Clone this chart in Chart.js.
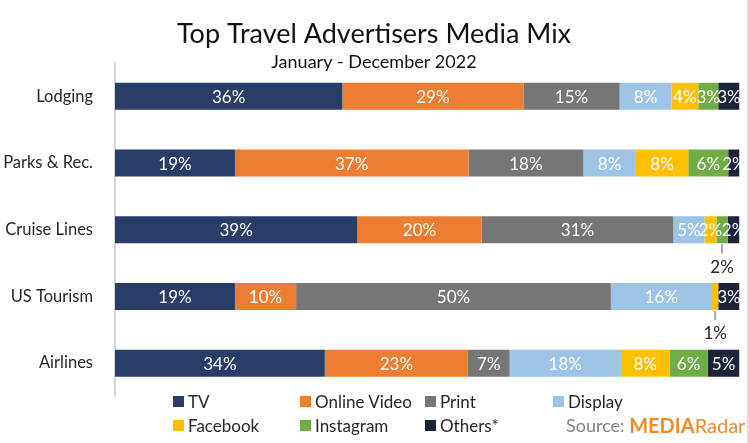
<!DOCTYPE html>
<html>
<head>
<meta charset="utf-8">
<title>Top Travel Advertisers Media Mix</title>
<script src="https://cdn.jsdelivr.net/npm/chart.js@4.4.0/dist/chart.umd.min.js"></script>
<style>
  html, body { margin: 0; padding: 0; background: #fff; }
  #wrap { position: relative; width: 749px; height: 443px; font-family: Lato, 'Open Sans', sans-serif; }
  #edge { position: absolute; left: 747px; top: 0; width: 2px; height: 443px; background: #dcdcdc; }
  #legend {
    position: absolute; left: 173px; top: 391px;
    display: grid; grid-template-columns: 127px 125px 128px auto; row-gap: 4px;
  }
  .item { display: flex; align-items: center; height: 20px; font-size: 17px; color: #262626; white-space: nowrap; }
  .box { width: 11px; height: 11px; margin-right: 4px; }
  #source { font-size: 18px; color: #7f7f7f; white-space: nowrap; margin-left: 13px; }
  #source .brand { color: #f08a2a; font-weight: bold; font-size: 20px; }
  #source .radar { color: #f08a2a; font-size: 20px; }
</style>
</head>
<body>
<div id="wrap">
  <canvas id="mixChart" width="749" height="443"></canvas>
  <div id="legend"></div>
  <div id="edge"></div>
</div>
<script>
// Données (parts en %, chaque barre = 100 %)
const chartTitle = 'Top Travel Advertisers Media Mix';
const chartSubtitle = 'January - December 2022';
const categories = ['Lodging', 'Parks & Rec.', 'Cruise Lines', 'US Tourism', 'Airlines'];

const tvValues          = [36.4, 19.2, 38.8, 19.2, 33.6];
const onlineVideoValues = [29.0, 37.4, 19.9,  9.8, 22.9];
const printValues       = [15.4, 18.4, 30.7, 50.4,  6.7];
const displayValues     = [ 8.3,  8.4,  5.0, 16.2, 17.8];
const facebookValues    = [ 4.3,  8.4,  1.9,  1.0,  7.8];
const instagramValues   = [ 3.2,  6.4,  1.8,  0.0,  6.1];
const othersValues      = [ 3.4,  1.8,  1.9,  3.4,  5.1];

// Étiquettes sorties de la barre avec un trait de rappel
const calloutPoints = [
  { series: 'Instagram', category: 'Cruise Lines' },
  { series: 'Facebook', category: 'US Tourism' }
];

const series = [
  { label: 'TV',           data: tvValues,          color: '#283e69' },
  { label: 'Online Video', data: onlineVideoValues, color: '#ed7d31' },
  { label: 'Print',        data: printValues,       color: '#767676' },
  { label: 'Display',      data: displayValues,     color: '#9dc3e6' },
  { label: 'Facebook',     data: facebookValues,    color: '#ffc000' },
  { label: 'Instagram',    data: instagramValues,   color: '#70ad47' },
  { label: 'Others*',      data: othersValues,      color: '#1c243c' }
];

function isCallout(seriesLabel, category) {
  return calloutPoints.some(p => p.series === seriesLabel && p.category === category);
}

/**
 * Titre et sous-titre dessinés à la main (le titre déborde sur la zone du graphique)
 */
const titlePlugin = {
  id: 'titles',
  afterDraw(chart) {
    const ctx = chart.ctx;
    ctx.save();
    ctx.textAlign = 'center';
    ctx.textBaseline = 'middle';
    ctx.fillStyle = '#111111';
    ctx.font = '27px Lato, sans-serif';
    ctx.fillText(chartTitle, 374, 34);
    ctx.font = '18px Lato, sans-serif';
    ctx.fillText(chartSubtitle, 374, 62);
    ctx.restore();
  }
};

/**
 * Étiquettes de pourcentage au centre de chaque segment
 */
const segmentLabelPlugin = {
  id: 'segmentLabels',
  afterDatasetsDraw(chart) {
    const ctx = chart.ctx;
    ctx.save();
    ctx.textAlign = 'center';
    ctx.textBaseline = 'middle';
    ctx.font = '17px Lato, sans-serif';
    chart.data.datasets.forEach((ds, i) => {
      const meta = chart.getDatasetMeta(i);
      meta.data.forEach((bar, j) => {
        const v = ds.data[j];
        if (!v) return;
        const text = Math.round(v) + '%';
        const cx = (bar.x + bar.base) / 2;
        if (isCallout(ds.label, categories[j])) {
          const y0 = bar.y + bar.height / 2 + 1;
          ctx.strokeStyle = '#a6a6a6';
          ctx.lineWidth = 2;
          ctx.beginPath();
          ctx.moveTo(cx, y0);
          ctx.lineTo(cx, y0 + 9);
          ctx.stroke();
          ctx.fillStyle = '#262626';
          ctx.fillText(text, cx, y0 + 23);
        } else {
          ctx.fillStyle = '#ffffff';
          ctx.fillText(text, cx, bar.y + 1);
        }
      });
    });
    ctx.restore();
  }
};

const ctx = document.getElementById('mixChart').getContext('2d');
const mixChart = new Chart(ctx, {
  type: 'bar',
  data: {
    labels: categories,
    datasets: series.map(s => ({
      label: s.label,
      data: s.data,
      backgroundColor: s.color,
      borderWidth: 0,
      barPercentage: 0.405,
      categoryPercentage: 1
    }))
  },
  options: {
    indexAxis: 'y',
    responsive: false,
    devicePixelRatio: 1,
    animation: false,
    layout: {
      padding: { left: 0, right: 9.5, top: 63, bottom: 46.5 }
    },
    scales: {
      x: {
        stacked: true,
        min: 0,
        max: 100,
        display: false
      },
      y: {
        stacked: true,
        grid: { display: false },
        border: { display: true, color: '#d6d6d6', width: 2 },
        ticks: {
          color: '#262626',
          padding: 14,
          font: { family: 'Lato, sans-serif', size: 16.5 }
        },
        afterFit(scale) {
          scale.width = 115;
        }
      }
    },
    plugins: {
      legend: { display: false },
      tooltip: { enabled: false },
      title: { display: false }
    }
  },
  plugins: [titlePlugin, segmentLabelPlugin]
});

// Légende HTML en colonnes, comme sur l'original
const legendEl = document.getElementById('legend');
series.forEach(s => {
  const item = document.createElement('div');
  item.className = 'item';
  item.innerHTML = '<span class="box" style="background:' + s.color + '"></span>' + s.label;
  legendEl.appendChild(item);
});
const source = document.createElement('div');
source.className = 'item';
source.id = 'source';
source.innerHTML = 'Source:&nbsp;<span class="brand">MEDIA</span><span class="radar">Radar</span>';
legendEl.appendChild(source);
</script>
</body>
</html>
